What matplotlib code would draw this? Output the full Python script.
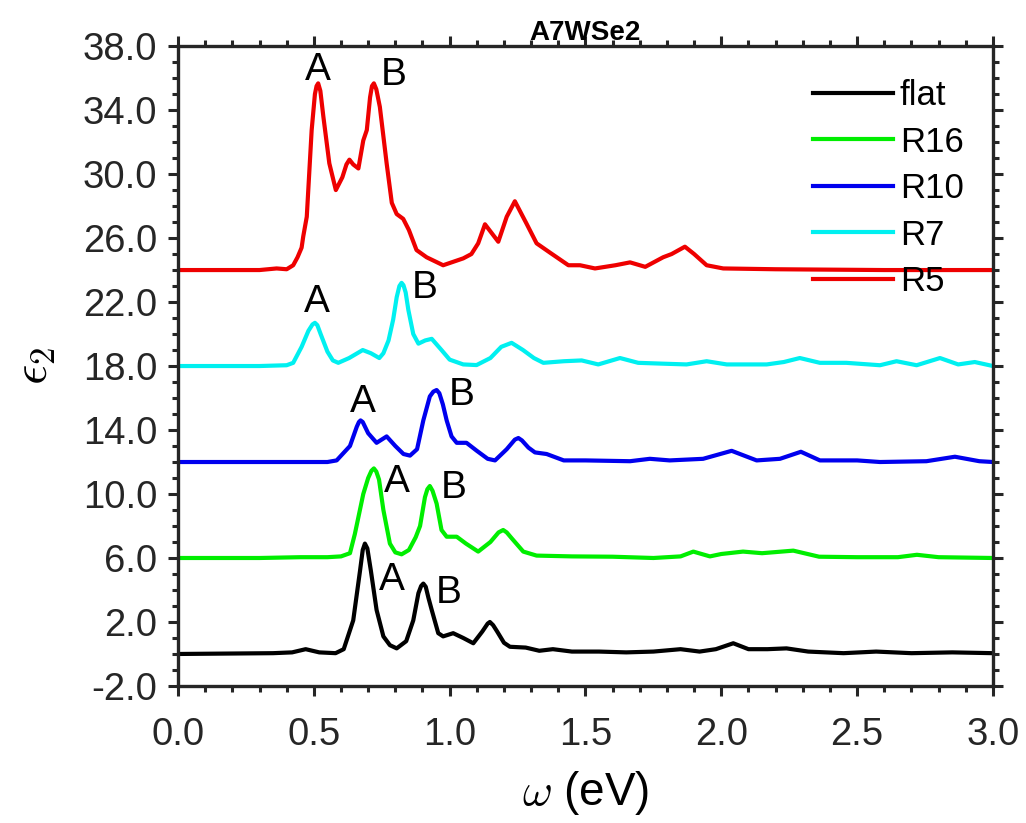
import matplotlib
matplotlib.use("Agg")
import numpy as np
import matplotlib.pyplot as plt
from matplotlib.ticker import MultipleLocator, FixedLocator, FormatStrFormatter

plt.rcParams['font.family'] = ['Liberation Sans', 'DejaVu Sans']
plt.rcParams['mathtext.fontset'] = 'cm'

# flat sheet, offset 0
x_flat = [0.0, 0.35, 0.42, 0.47, 0.52, 0.58, 0.61, 0.645, 0.67, 0.68, 0.688, 0.697, 0.71,
          0.731, 0.756, 0.78, 0.805, 0.84, 0.866, 0.885, 0.895, 0.903, 0.912, 0.922, 0.934,
          0.958, 0.976, 1.013, 1.05, 1.087, 1.12, 1.14, 1.148, 1.16, 1.175, 1.2, 1.222, 1.28,
          1.33, 1.38, 1.45, 1.55, 1.65, 1.75, 1.85, 1.92, 1.98, 2.044, 2.1, 2.17, 2.24, 2.32,
          2.45, 2.57, 2.7, 2.85, 3.0]
y_flat = [0.0, 0.05, 0.1, 0.3, 0.1, 0.05, 0.3, 2.1, 5.2, 6.5, 6.9, 6.6, 5.2,
          2.75, 1.1, 0.55, 0.35, 0.8, 2.1, 3.8, 4.25, 4.4, 4.2, 3.5, 2.75,
          1.3, 1.1, 1.3, 1.0, 0.67, 1.4, 1.9, 2.0, 1.8, 1.4, 0.7, 0.45, 0.4,
          0.2, 0.3, 0.15, 0.15, 0.1, 0.15, 0.3, 0.15, 0.3, 0.67, 0.3, 0.3, 0.35, 0.15,
          0.05, 0.15, 0.05, 0.1, 0.05]

# R16, offset 6
x_r16 = [0.0, 0.3, 0.45, 0.55, 0.6, 0.633, 0.651, 0.682, 0.7, 0.712, 0.721, 0.73, 0.74,
         0.756, 0.78, 0.80, 0.823, 0.85, 0.875, 0.891, 0.909, 0.918, 0.927, 0.937, 0.952,
         0.97, 0.989, 1.026, 1.06, 1.105, 1.15, 1.18, 1.197, 1.21, 1.23, 1.271, 1.32, 1.45,
         1.6, 1.75, 1.85, 1.897, 1.958, 2.0, 2.08, 2.15, 2.265, 2.36, 2.5, 2.65, 2.72, 2.8,
         3.0]
y_r16 = [6.0, 6.0, 6.05, 6.05, 6.1, 6.3, 7.5, 10.0, 11.0, 11.45, 11.6, 11.4, 10.9,
         9.0, 6.9, 6.35, 6.23, 6.5, 7.3, 8.0, 9.8, 10.3, 10.5, 10.2, 9.4,
         7.75, 7.33, 7.33, 6.9, 6.4, 7.0, 7.6, 7.75, 7.6, 7.2, 6.4, 6.15, 6.1,
         6.08, 6.0, 6.1, 6.4, 6.1, 6.25, 6.4, 6.3, 6.46, 6.08, 6.05, 6.05, 6.2, 6.05,
         6.0]

# R10, offset 12
x_r10 = [0.0, 0.4, 0.55, 0.584, 0.633, 0.658, 0.666, 0.672, 0.68, 0.70, 0.731, 0.768, 0.80,
         0.83, 0.854, 0.88, 0.903, 0.927, 0.94, 0.952, 0.962, 0.975, 0.989, 1.007, 1.026,
         1.062, 1.1, 1.14, 1.167, 1.21, 1.24, 1.253, 1.266, 1.29, 1.314, 1.357, 1.42, 1.5,
         1.664, 1.737, 1.81, 1.933, 2.038, 2.13, 2.216, 2.293, 2.363, 2.5, 2.584, 2.755,
         2.86, 2.95, 3.0]
y_r10 = [12.0, 12.0, 12.0, 12.1, 13.0, 14.2, 14.5, 14.6, 14.5, 13.8, 13.2, 13.6, 13.0,
         12.5, 12.4, 12.8, 14.6, 16.1, 16.4, 16.5, 16.3, 15.6, 14.6, 13.6, 13.2,
         13.2, 12.7, 12.2, 12.1, 12.8, 13.4, 13.5, 13.35, 12.9, 12.6, 12.5, 12.1, 12.1,
         12.05, 12.2, 12.1, 12.2, 12.7, 12.1, 12.2, 12.64, 12.1, 12.1, 12.0, 12.05,
         12.33, 12.05, 12.0]

# R7, offset 18
x_r7 = [0.0, 0.3, 0.40, 0.424, 0.455, 0.48, 0.495, 0.504, 0.513, 0.525, 0.55, 0.57, 0.59,
        0.63, 0.68, 0.71, 0.741, 0.756, 0.775, 0.792, 0.805, 0.815, 0.823, 0.83, 0.838,
        0.848, 0.866, 0.885, 0.91, 0.934, 0.97, 1.0, 1.05, 1.099, 1.15, 1.19, 1.228, 1.27,
        1.31, 1.345, 1.42, 1.486, 1.547, 1.627, 1.694, 1.78, 1.872, 1.946, 2.02, 2.167,
        2.23, 2.289, 2.363, 2.46, 2.584, 2.645, 2.719, 2.805, 2.872, 2.933, 3.0]
y_r7 = [18.0, 18.0, 18.05, 18.2, 19.2, 20.2, 20.6, 20.7, 20.55, 20.0, 18.9, 18.35, 18.2,
        18.5, 19.0, 18.8, 18.5, 18.8, 19.6, 20.9, 22.3, 23.0, 23.2, 23.05, 22.6,
        21.5, 20.0, 19.4, 19.6, 19.7, 19.0, 18.4, 18.1, 18.06, 18.5, 19.2, 19.45, 19.0,
        18.5, 18.2, 18.3, 18.35, 18.1, 18.5, 18.2, 18.15, 18.1, 18.3, 18.1, 18.1,
        18.25, 18.5, 18.2, 18.2, 18.05, 18.3, 18.05, 18.5, 18.1, 18.25, 18.0]

# R5, offset 24
x_r5 = [0.0, 0.3, 0.363, 0.40, 0.424, 0.44, 0.455, 0.461, 0.474, 0.492, 0.504, 0.51, 0.516,
        0.524, 0.535, 0.557, 0.581, 0.605, 0.62, 0.631, 0.645, 0.664, 0.682, 0.695, 0.707,
        0.714, 0.721, 0.73, 0.743, 0.768, 0.787, 0.805, 0.829, 0.85, 0.878, 0.915, 0.976,
        1.05, 1.08, 1.105, 1.13, 1.179, 1.21, 1.24, 1.283, 1.32, 1.37, 1.437, 1.48, 1.535,
        1.61, 1.664, 1.72, 1.786, 1.817, 1.866, 1.90, 1.946, 2.007, 2.2, 2.6, 3.0]
y_r5 = [24.0, 24.0, 24.1, 24.05, 24.3, 24.8, 25.4, 26.1, 27.33, 32.75, 35.0, 35.5, 35.67,
        35.2, 33.6, 30.67, 29.0, 29.8, 30.6, 30.9, 30.6, 30.35, 32.1, 32.75, 34.8,
        35.5, 35.67, 35.3, 34.2, 30.67, 28.2, 27.5, 27.2, 26.5, 25.25, 24.8, 24.3,
        24.73, 25.0, 25.67, 26.86, 25.77, 27.33, 28.3, 26.9, 25.67, 25.08, 24.3, 24.3, 24.1,
        24.3, 24.48, 24.2, 24.8, 25.0, 25.46, 25.0, 24.3, 24.1, 24.05, 24.0, 24.0]

labels = ['flat', 'R16', 'R10', 'R7', 'R5']
colors = ['black', '#00ee00', '#0000ee', '#00f0f0', '#ee0000']

# A / B peak labels
peak_x = [0.516, 0.795, 0.51, 0.909, 0.68, 1.044, 0.805, 1.016, 0.786, 0.995]
peak_y = [36.5, 36.2, 22.0, 22.86, 15.77, 16.2, 10.77, 10.36, 4.6, 3.8]
peak_txt = ['A', 'B', 'A', 'B', 'A', 'B', 'A', 'B', 'A', 'B']

fig = plt.figure(figsize=(10.26, 8.23), dpi=100)
ax = fig.add_axes([0.1735, 0.1665, 0.7943, 0.7775])

xs = [x_flat, x_r16, x_r10, x_r7, x_r5]
ys = [y_flat, y_r16, y_r10, y_r7, y_r5]
for x, y, c, lab in zip(xs, ys, colors, labels):
    ax.plot(x, y, color=c, lw=3, label=lab, solid_joinstyle='round')

for px, py, t in zip(peak_x, peak_y, peak_txt):
    ax.text(px, py, t, fontsize=28, ha='center', va='center')

ax.set_xlim(0, 3)
ax.set_ylim(-2, 38)
ax.xaxis.set_major_locator(MultipleLocator(0.5))
ax.xaxis.set_minor_locator(MultipleLocator(0.1))
ax.yaxis.set_major_locator(FixedLocator(np.arange(-2, 38.5, 4)))
ax.yaxis.set_minor_locator(MultipleLocator(1))
ax.xaxis.set_major_formatter(FormatStrFormatter('%.1f'))
ax.yaxis.set_major_formatter(FormatStrFormatter('%.1f'))
ax.tick_params(which='both', direction='out', top=True, right=True, width=2.2,
               labelsize=27.5, colors='#262626')
ax.tick_params(which='major', length=7, pad=8)
ax.tick_params(axis='x', which='major', pad=15)
ax.tick_params(which='minor', length=4.5)
for s in ax.spines.values():
    s.set_linewidth(2.4)
    s.set_color('#262626')

ax.set_xlabel(r'$\omega$ (eV)', fontsize=33, labelpad=12)
ax.set_ylabel(r'$\epsilon_2$', fontsize=36, labelpad=18)
ax.set_title('A7WSe2', fontsize=20, fontweight='bold', pad=3)

ax.legend(loc='upper left', frameon=False, fontsize=25, handlelength=2.3,
          labelspacing=0.39, handletextpad=0.2, borderpad=0, borderaxespad=0,
          bbox_to_anchor=(0.7924, 0.904), bbox_transform=fig.transFigure)

fig.savefig('out.png', dpi=100)
